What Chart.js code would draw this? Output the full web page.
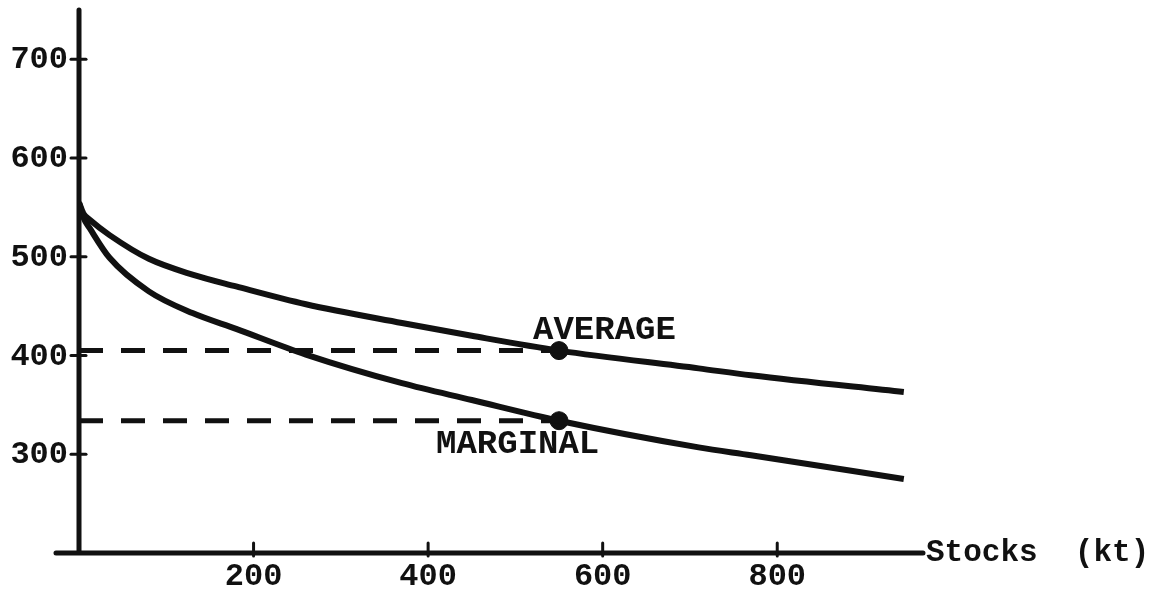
<!DOCTYPE html>
<html>
<head>
<meta charset="utf-8">
<script src="https://cdn.jsdelivr.net/npm/chart.js@4/dist/chart.umd.min.js"></script>
<style>
  html, body { margin: 0; padding: 0; background: #fff; }
  #wrap { width: 1151px; height: 590px; }
</style>
</head>
<body>
<div id="wrap"><canvas id="c"></canvas></div>
<script>
// stocks (kt) and the two cost curves
var stocks = [0, 5, 13, 35, 80, 130, 180, 260, 370, 450, 550, 710, 770, 945];
var average = [555, 544, 537, 522, 498, 482, 470, 452, 433, 420, 405, 387, 380, 363];
var marginal = [555, 540, 528, 499, 465, 443, 427, 401, 372, 355, 334, 307, 299, 275];

// the marked point and its guide lines
var pointStock = 550;
var pointValues = [405, 334];
var pointLabels = ["AVERAGE", "MARGINAL"];

var xTicks = [200, 400, 600, 800];
var yTicks = [300, 400, 500, 600, 700];
var xTitle = "Stocks  (kt)";

var ink = "#111";
var tickFont = "bold 32px 'Liberation Mono', monospace";
var titleFont = "bold 31px 'Liberation Mono', monospace";
var labelFont = "bold 34px 'Liberation Mono', monospace";

function toXY(xs, ys) {
    return xs.map(function (x, i) { return { x: x, y: ys[i] }; });
}

var datasets = [
    { data: toXY(stocks, average), borderColor: ink, borderWidth: 6, pointRadius: 0, cubicInterpolationMode: "monotone" },
    { data: toXY(stocks, marginal), borderColor: ink, borderWidth: 6, pointRadius: 0, cubicInterpolationMode: "monotone" }
];
pointValues.forEach(function (v) {
    datasets.push({ data: [{ x: 0, y: v }, { x: pointStock, y: v }], borderColor: ink, borderWidth: 5, borderDash: [24, 18], pointRadius: 0 });
});
datasets.push({
    data: pointValues.map(function (v) { return { x: pointStock, y: v }; }),
    showLine: false, pointRadius: 9, backgroundColor: ink, borderColor: ink
});

// axes drawn by hand so they cross like the typed original
var axesPlugin = {
    id: "axes",
    afterDraw: function (chart) {
        var ctx = chart.ctx;
        var xs = chart.scales.x, ys = chart.scales.y;
        var x0 = xs.getPixelForValue(0);
        var yBase = ys.getPixelForValue(ys.min);
        ctx.save();
        ctx.strokeStyle = ink;
        ctx.fillStyle = ink;
        ctx.lineCap = "round";
        ctx.lineWidth = 5;
        ctx.beginPath();
        ctx.moveTo(x0, yBase);
        ctx.lineTo(x0, ys.getPixelForValue(ys.max));
        ctx.moveTo(x0 - 23, yBase);
        ctx.lineTo(xs.getPixelForValue(xs.max), yBase);
        ctx.stroke();

        ctx.lineWidth = 3;
        ctx.font = tickFont;
        ctx.textAlign = "right";
        ctx.textBaseline = "middle";
        yTicks.forEach(function (t) {
            var py = ys.getPixelForValue(t);
            ctx.beginPath();
            ctx.moveTo(x0 - 8, py);
            ctx.lineTo(x0 + 7, py);
            ctx.stroke();
            ctx.fillText(String(t), x0 - 11, py + 1);
        });
        ctx.textAlign = "center";
        ctx.textBaseline = "top";
        xTicks.forEach(function (t) {
            var px = xs.getPixelForValue(t);
            ctx.beginPath();
            ctx.moveTo(px, yBase - 10);
            ctx.lineTo(px, yBase + 3);
            ctx.stroke();
            ctx.fillText(String(t), px, yBase + 8);
        });
        ctx.font = titleFont;
        ctx.textAlign = "left";
        ctx.textBaseline = "middle";
        ctx.fillText(xTitle, xs.getPixelForValue(xs.max) + 3, yBase);

        // curve names next to the marked point
        ctx.font = labelFont;
        var px = xs.getPixelForValue(pointStock);
        ctx.fillText(pointLabels[0], px - 26, ys.getPixelForValue(pointValues[0]) - 20);
        ctx.fillText(pointLabels[1], px - 123, ys.getPixelForValue(pointValues[1]) + 24);
        ctx.restore();
    }
};

new Chart(document.getElementById("c"), {
    type: "line",
    data: { datasets: datasets },
    options: {
        responsive: true,
        maintainAspectRatio: false,
        animation: false,
        layout: { padding: { left: 79, top: 5, right: 228, bottom: 37 } },
        plugins: { legend: { display: false }, tooltip: { enabled: false } },
        scales: {
            x: { type: "linear", min: 0, max: 967, display: false },
            y: { type: "linear", min: 200, max: 750, display: false }
        }
    },
    plugins: [axesPlugin]
});
</script>
</body>
</html>
